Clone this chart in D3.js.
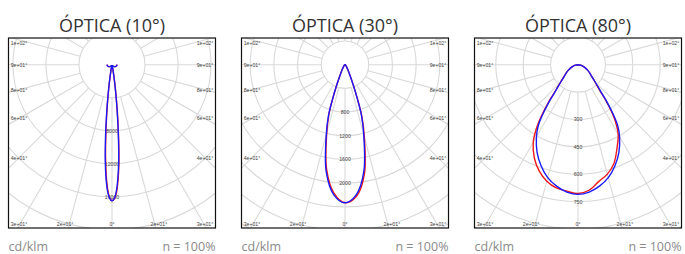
<!DOCTYPE html>
<html>
<head>
<meta charset="utf-8">
<script src="https://cdn.jsdelivr.net/npm/d3@7"></script>
<style>
  body { margin: 0; background: #fff; }
  svg { display: block; }
  .title { font-family: "Open Sans", sans-serif; font-size: 18px; fill: #333; }
  .foot { font-family: "Open Sans", sans-serif; font-size: 12.5px; fill: #8a8a8a; }
  .tick { font-family: "Liberation Sans", Arial, sans-serif; font-size: 5.2px; fill: #444; }
</style>
</head>
<body>
<svg id="chart"></svg>
<script>
// photometric polar diagrams, three optics (cd/klm)

var titles = ["ÓPTICA (10°)", "ÓPTICA (30°)", "ÓPTICA (80°)"];
var angleTicks = [0, 15, 30, 45, 60, 75, 90, 105];
var angleTickLabels = ["0°", "2e+01°", "3e+01°", "4e+01°", "6e+01°", "8e+01°", "9e+01°", "1e+02°"];

// optic 10
var gamma10 = [0, 1, 2, 3, 4, 5, 6, 7, 8, 9, 10, 11, 12, 15, 20, 30, 45, 60, 75, 90];
var red10Left = [16500, 16150, 15100, 13400, 11200, 8600, 6200, 4200, 2700, 1550, 820, 420, 250, 150, 120, 150, 300, 460, 570, 600];
var red10Right = [16500, 16250, 15500, 14000, 12000, 9300, 6800, 4600, 2900, 1650, 860, 440, 250, 150, 120, 150, 300, 460, 570, 600];
var blue10Left = [16500, 16200, 15350, 13800, 11700, 9100, 6600, 4450, 2800, 1600, 850, 430, 250, 150, 120, 150, 300, 460, 570, 600];
var blue10Right = [16500, 16200, 15300, 13700, 11600, 9000, 6500, 4400, 2800, 1600, 850, 430, 250, 150, 120, 150, 300, 460, 570, 600];
var ringStep10 = 4000;
var ringLabels10 = [8000, 12000, 16000];

// optic 30
var gamma30 = [0, 5, 10, 15, 18, 20, 22, 25, 30, 35, 40, 50, 60, 70, 80, 90];
var red30Left = [2330, 2170, 1790, 1190, 880, 590, 375, 200, 90, 50, 30, 20, 12, 8, 4, 0];
var red30Right = [2330, 2230, 1880, 1260, 920, 610, 385, 200, 90, 50, 30, 20, 12, 8, 4, 0];
var blue30Left = [2330, 2200, 1830, 1220, 900, 600, 380, 200, 90, 50, 30, 20, 12, 8, 4, 0];
var blue30Right = [2330, 2200, 1830, 1220, 900, 600, 380, 200, 90, 50, 30, 20, 12, 8, 4, 0];
var ringStep30 = 400;
var ringLabels30 = [800, 1200, 1600, 2000];

// optic 80
var gamma80 = [0, 5, 10, 15, 20, 25, 30, 33, 35, 38, 40, 45, 50, 55, 60, 70, 80, 90];
var red80Left = [705, 695, 685, 660, 620, 565, 490, 420, 360, 265, 205, 135, 98, 80, 62, 35, 15, 0];
var red80Right = [705, 690, 650, 620, 575, 505, 440, 380, 330, 245, 190, 128, 95, 78, 62, 35, 15, 0];
var blue80Left = [710, 700, 675, 640, 590, 530, 455, 400, 345, 255, 198, 132, 96, 78, 62, 35, 15, 0];
var blue80Right = [710, 700, 675, 640, 590, 530, 455, 400, 345, 255, 198, 132, 96, 78, 62, 35, 15, 0];
var ringStep80 = 150;
var ringLabels80 = [300, 450, 600, 750];

var panels = [
  { gamma: gamma10, red: [red10Left, red10Right], blue: [blue10Left, blue10Right], step: ringStep10, labels: ringLabels10, stepPx: 33 },
  { gamma: gamma30, red: [red30Left, red30Right], blue: [blue30Left, blue30Right], step: ringStep30, labels: ringLabels30, stepPx: 23.7 },
  { gamma: gamma80, red: [red80Left, red80Right], blue: [blue80Left, blue80Right], step: ringStep80, labels: ringLabels80, stepPx: 27.4 }
];

var width = 685, height = 254;
var boxW = 207, boxTop = 38, boxBottom = 228;
var panelX = [8.5, 241.5, 474.5];
var cyOff = 26.7; // polar centre below box top

var svg = d3.select("#chart").attr("width", width).attr("height", height);

// join left (negative) and right halves into one signed-angle series
function joinHalves(gamma, left, right) {
  var pts = [];
  for (var i = gamma.length - 1; i > 0; i--) pts.push({ a: -gamma[i], v: left[i] });
  for (var j = 0; j < gamma.length; j++) pts.push({ a: gamma[j], v: right[j] });
  return pts;
}

panels.forEach(function (p, k) {
  var x0 = panelX[k], x1 = x0 + boxW;
  var cx = x0 + boxW / 2, cy = boxTop + cyOff;
  var g = svg.append("g");

  var r = d3.scaleLinear().domain([0, p.step]).range([0, p.stepPx]);

  g.append("text").attr("class", "title")
    .attr("x", cx).attr("y", 32).attr("text-anchor", "middle")
    .text(titles[k]);

  g.append("rect").attr("x", x0).attr("y", boxTop)
    .attr("width", boxW).attr("height", boxBottom - boxTop)
    .attr("fill", "#fff");

  var clipId = "clip" + k;
  svg.append("defs").append("clipPath").attr("id", clipId).append("rect")
    .attr("x", x0).attr("y", boxTop).attr("width", boxW).attr("height", boxBottom - boxTop);

  var inner = g.append("g").attr("clip-path", "url(#" + clipId + ")")
    .append("g")
    .attr("transform", "translate(" + cx + "," + cy + ")");

  // rings
  var rings = d3.range(1, 9).map(function (n) { return n * p.step; });
  inner.selectAll("circle.ring").data(rings).enter().append("circle")
    .attr("class", "ring")
    .attr("r", function (d) { return r(d); })
    .attr("fill", "none").attr("stroke", "#d9d9d9").attr("stroke-width", 1.1);

  // spokes every 15 degrees, starting at first ring
  var spokes = d3.range(0, 360, 15);
  inner.selectAll("line.spoke").data(spokes).enter().append("line")
    .attr("class", "spoke")
    .attr("x1", function (d) { return r(p.step) * Math.sin(d * Math.PI / 180); })
    .attr("y1", function (d) { return r(p.step) * Math.cos(d * Math.PI / 180); })
    .attr("x2", function (d) { return 300 * Math.sin(d * Math.PI / 180); })
    .attr("y2", function (d) { return 300 * Math.cos(d * Math.PI / 180); })
    .attr("stroke", "#d9d9d9").attr("stroke-width", 1.1);

  // ring value labels along 0 deg
  inner.selectAll("text.rl").data(p.labels).enter().append("text")
    .attr("class", "tick")
    .attr("x", 0).attr("y", function (d) { return r(d); })
    .attr("text-anchor", "middle").attr("dominant-baseline", "central")
    .text(function (d) { return d; });

  // curves
  var line = d3.lineRadial()
    .angle(function (d) { return Math.PI - d.a * Math.PI / 180; })
    .radius(function (d) { return r(d.v); })
    .curve(d3.curveCatmullRom.alpha(0.5));

  inner.append("path").datum(joinHalves(p.gamma, p.red[0], p.red[1]))
    .attr("d", line).attr("fill", "none").attr("stroke", "#f01818").attr("stroke-width", 1.4);
  inner.append("path").datum(joinHalves(p.gamma, p.blue[0], p.blue[1]))
    .attr("d", line).attr("fill", "none").attr("stroke", "#1a1aff").attr("stroke-width", 1.4);

  // angle labels round the frame
  var half = 93, deep = 175;
  angleTicks.forEach(function (a, i) {
    [-1, 1].forEach(function (side) {
      if (a === 0 && side < 0) return;
      var rad = a * Math.PI / 180, lx, ly;
      if (a <= 30) {
        ly = boxBottom - 4.5;
        lx = cx + side * Math.min(half, deep * Math.tan(rad));
      } else {
        lx = cx + side * half;
        ly = Math.max(boxTop + 4.5, cy + half / Math.tan(rad));
      }
      g.append("text").attr("class", "tick")
        .attr("x", lx).attr("y", ly)
        .attr("text-anchor", "middle").attr("dominant-baseline", "central")
        .text(angleTickLabels[i]);
    });
  });

  g.append("rect").attr("x", x0).attr("y", boxTop)
    .attr("width", boxW).attr("height", boxBottom - boxTop)
    .attr("fill", "none").attr("stroke", "#111").attr("stroke-width", 1.2);

  g.append("text").attr("class", "foot").attr("x", x0).attr("y", 251).text("cd/klm");
  g.append("text").attr("class", "foot").attr("x", x1).attr("y", 251)
    .attr("text-anchor", "end").text("n = 100%");
});
</script>
</body>
</html>
